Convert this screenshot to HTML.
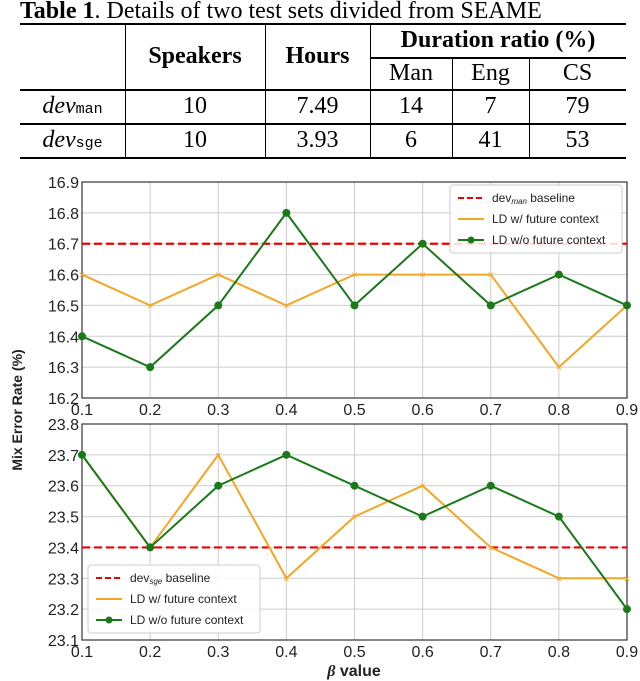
<!DOCTYPE html>
<html><head><meta charset="utf-8"><style>
body{margin:0;width:640px;height:681px;background:#fff;overflow:hidden;position:relative;font-family:"Liberation Serif",serif}
.t{position:absolute;white-space:nowrap}
.c{position:absolute;text-align:center;font-size:24px;line-height:32px;white-space:nowrap}
.hl{position:absolute;background:#000}
</style></head><body>
<div class="t" style="left:20px;top:-3px;font-size:24px;line-height:28px"><b>Table 1</b>. Details of two test sets divided from SEAME</div>
<div>
<div class="hl" style="left:20px;top:23px;width:606px;height:2px"></div>
<div class="hl" style="left:370px;top:57px;width:256px;height:1.5px"></div>
<div class="hl" style="left:20px;top:89px;width:606px;height:1.5px"></div>
<div class="hl" style="left:20px;top:123px;width:606px;height:1.5px"></div>
<div class="hl" style="left:20px;top:157px;width:606px;height:2px"></div>
<div class="hl" style="left:125px;top:24px;width:1px;height:134px"></div>
<div class="hl" style="left:265px;top:24px;width:1px;height:134px"></div>
<div class="hl" style="left:370px;top:24px;width:1px;height:134px"></div>
<div class="hl" style="left:452px;top:57px;width:1px;height:101px"></div>
<div class="hl" style="left:529px;top:57px;width:1px;height:101px"></div>
<div class="c" style="left:125px;top:40px;width:140px"><b>Speakers</b></div>
<div class="c" style="left:265px;top:40px;width:105px"><b>Hours</b></div>
<div class="c" style="left:370px;top:24px;width:256px"><b>Duration ratio (%)</b></div>
<div class="c" style="left:370px;top:57px;width:82px">Man</div>
<div class="c" style="left:452px;top:57px;width:77px">Eng</div>
<div class="c" style="left:529px;top:57px;width:97px">CS</div>
<div class="c" style="left:20px;top:90px;width:105px"><i>dev</i><span style="font-family:'Liberation Mono',monospace;font-size:15px">man</span></div>
<div class="c" style="left:125px;top:90px;width:140px">10</div>
<div class="c" style="left:265px;top:90px;width:105px">7.49</div>
<div class="c" style="left:370px;top:90px;width:82px">14</div>
<div class="c" style="left:452px;top:90px;width:77px">7</div>
<div class="c" style="left:529px;top:90px;width:97px">79</div>
<div class="c" style="left:20px;top:124px;width:105px"><i>dev</i><span style="font-family:'Liberation Mono',monospace;font-size:15px">sge</span></div>
<div class="c" style="left:125px;top:124px;width:140px">10</div>
<div class="c" style="left:265px;top:124px;width:105px">3.93</div>
<div class="c" style="left:370px;top:124px;width:82px">6</div>
<div class="c" style="left:452px;top:124px;width:77px">41</div>
<div class="c" style="left:529px;top:124px;width:97px">53</div>
</div>
<svg id="chart" width="640" height="681" style="position:absolute;left:0;top:0" font-family="'Liberation Sans',sans-serif"></svg>
<script>
const betas=[0.1,0.2,0.3,0.4,0.5,0.6,0.7,0.8,0.9];
const topWith=[16.6,16.5,16.6,16.5,16.6,16.6,16.6,16.3,16.5];
const topWithout=[16.4,16.3,16.5,16.8,16.5,16.7,16.5,16.6,16.5];
const topBaseline=16.7;
const topTicks=[16.2,16.3,16.4,16.5,16.6,16.7,16.8,16.9];
const botWith=[23.7,23.4,23.7,23.3,23.5,23.6,23.4,23.3,23.3];
const botWithout=[23.7,23.4,23.6,23.7,23.6,23.5,23.6,23.5,23.2];
const botBaseline=23.4;
const botTicks=[23.1,23.2,23.3,23.4,23.5,23.6,23.7,23.8];
const svg=document.getElementById('chart');const NS='http://www.w3.org/2000/svg';
function el(t,a,p){const e=document.createElementNS(NS,t);for(const k in a)e.setAttribute(k,a[k]);(p||svg).appendChild(e);return e;}
const X0=82,X1=627;
const xs=v=>X0+(v-0.1)/0.8*(X1-X0);
function panel(name,yTop,yBot,ticks,base,w,wo){
 const lo=ticks[0],hi=ticks[ticks.length-1];
 const ys=v=>yBot-(v-lo)/(hi-lo)*(yBot-yTop);
 const g=el('g',{});
 
 
 ticks.forEach(t=>{el('line',{x1:X0,x2:X1,y1:ys(t),y2:ys(t),stroke:'#ccc','stroke-width':1},g);
  const tx=el('text',{x:X0-3,y:ys(t)+6,'text-anchor':'end','font-size':16,fill:'#222'},g);tx.textContent=t.toFixed(1);
  
  });
 betas.forEach(b=>{el('line',{x1:xs(b),x2:xs(b),y1:yTop,y2:yBot,stroke:'#ccc','stroke-width':1},g);
  const tx=el('text',{x:xs(b),y:yBot+17,'text-anchor':'middle','font-size':16,fill:'#222'},g);tx.textContent=b.toFixed(1);
  
  });
 el('rect',{x:X0,y:yTop,width:X1-X0,height:yBot-yTop,fill:'none',stroke:'#333','stroke-width':1.2},g);
 const bl=el('line',{x1:X0,x2:X1,y1:ys(base),y2:ys(base),stroke:'#e00','stroke-width':2.2,'stroke-dasharray':'8,4'},g);
 
 
 const l1=el('polyline',{points:betas.map((b,i)=>xs(b)+','+ys(w[i])).join(' '),fill:'none',stroke:'#f5a623','stroke-width':2},g);
 
 
 w.forEach((v,i)=>{const m=el('text',{x:xs(betas[i]),y:ys(v)+4,'text-anchor':'middle','font-size':11,fill:'#f5a623'},g);m.textContent='×';
  
  });
 const l2=el('polyline',{points:betas.map((b,i)=>xs(b)+','+ys(wo[i])).join(' '),fill:'none',stroke:'#1a7a1a','stroke-width':2},g);
 
 
 wo.forEach((v,i)=>{const c=el('circle',{cx:xs(betas[i]),cy:ys(v),r:4,fill:'#1a7a1a'},g);
  
  });
 return g;
}
panel('top-panel',182,398,topTicks,topBaseline,topWith,topWithout);
panel('bottom-panel',424,640,botTicks,botBaseline,botWith,botWithout);
function legend(name,x,y,sub){
 const g=el('g',{});
 
 
 el('rect',{x:x,y:y,width:172,height:68,fill:'#fff','fill-opacity':0.85,stroke:'#ccc',rx:3},g);
 el('line',{x1:x+8,x2:x+34,y1:y+13,y2:y+13,stroke:'#e00','stroke-width':2,'stroke-dasharray':'6,3'},g);
 const t1=el('text',{x:x+42,y:y+17,'font-size':12,fill:'#222'},g);t1.innerHTML='dev<tspan font-size="8" font-style="italic" dy="2">'+sub+'</tspan><tspan dy="-2"> baseline</tspan>';
 el('line',{x1:x+8,x2:x+34,y1:y+34,y2:y+34,stroke:'#f5a623','stroke-width':2},g);
 const t2=el('text',{x:x+42,y:y+38,'font-size':12,fill:'#222'},g);t2.textContent='LD w/ future context';
 el('line',{x1:x+8,x2:x+34,y1:y+55,y2:y+55,stroke:'#1a7a1a','stroke-width':2},g);
 el('circle',{cx:x+21,cy:y+55,r:3.5,fill:'#1a7a1a'},g);
 const t3=el('text',{x:x+42,y:y+59,'font-size':12,fill:'#222'},g);t3.textContent='LD w/o future context';
}
legend('top-legend',450,185,'man');
legend('bottom-legend',88,565,'sge');
const yl=el('text',{x:0,y:0,'font-size':14,'font-weight':'bold',fill:'#222','text-anchor':'middle',transform:'translate(22,410) rotate(-90)'});
yl.textContent='Mix Error Rate (%)';


const xl=el('text',{x:354,y:676,'font-size':16,'font-weight':'bold',fill:'#222','text-anchor':'middle'});
xl.innerHTML='<tspan font-style="italic" font-family="Liberation Serif">β</tspan> value';


</script>
</body></html>
